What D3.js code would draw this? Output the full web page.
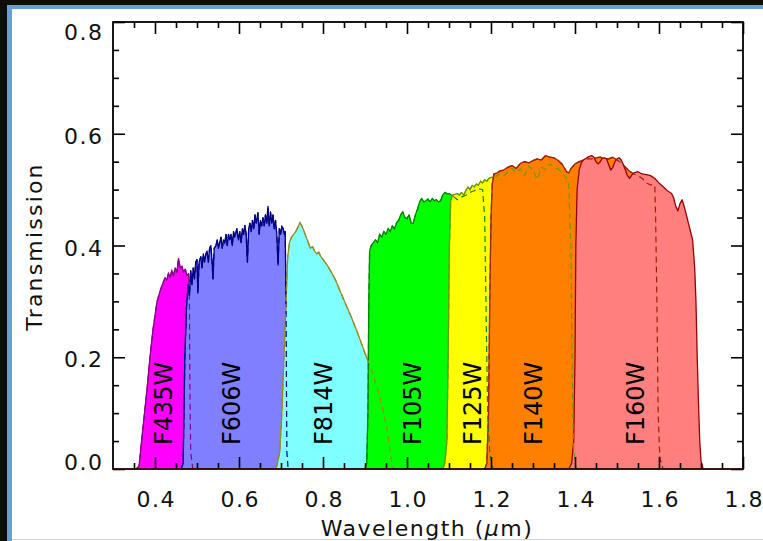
<!DOCTYPE html>
<html>
<head>
<meta charset="utf-8">
<script src="https://cdn.jsdelivr.net/npm/d3@7"></script>
<style>
  html, body { margin: 0; padding: 0; background: #0e0d0a; }
  svg { display: block; }
</style>
</head>
<body>
<svg id="chart" width="763" height="541"></svg>
<script>
// filter names, in drawing order
var filters = ['F435W', 'F606W', 'F814W', 'F105W', 'F125W', 'F140W', 'F160W'];

// wavelength (um) where each name is written
var labelWave = [0.421, 0.581, 0.802, 1.012, 1.155, 1.30, 1.543];

// throughput curves, [wavelength um, transmission]
var f435w = [[0.355,0],[0.362,0.005],[0.368,0.05],[0.375,0.1],[0.382,0.15],[0.388,0.2],[0.395,0.248],
  [0.40,0.275],[0.405,0.30],[0.41,0.313],[0.415,0.325],[0.42,0.335],[0.424,0.342],[0.428,0.338],[0.432,0.35],
  [0.436,0.343],[0.44,0.355],[0.444,0.346],[0.448,0.36],[0.452,0.352],[0.456,0.377],[0.46,0.36],[0.464,0.363],
  [0.468,0.352],[0.472,0.358],[0.476,0.346],[0.48,0.35],[0.482,0.3],[0.483,0.15],[0.485,0.03],[0.49,0]];

var f606w = [[0.462,0],[0.467,0.01],[0.469,0.1],[0.471,0.2],[0.475,0.29],[0.479,0.33],[0.482,0.31],[0.485,0.355],
  [0.488,0.33],[0.491,0.36],[0.494,0.34],[0.497,0.37],[0.50,0.375],[0.502,0.315],[0.505,0.37],[0.509,0.38],
  [0.512,0.36],[0.515,0.385],[0.518,0.37],[0.521,0.385],[0.524,0.39],[0.527,0.37],[0.53,0.395],[0.533,0.40],
  [0.536,0.37],[0.538,0.34],[0.541,0.395],[0.545,0.40],[0.548,0.41],[0.551,0.395],[0.554,0.405],[0.557,0.415],
  [0.56,0.395],[0.563,0.41],[0.566,0.405],[0.569,0.42],[0.572,0.40],[0.575,0.42],[0.578,0.41],[0.581,0.42],
  [0.584,0.40],[0.587,0.425],[0.59,0.415],[0.595,0.43],[0.599,0.41],[0.602,0.425],[0.605,0.405],[0.608,0.43],
  [0.611,0.42],[0.614,0.436],[0.617,0.42],[0.62,0.37],[0.623,0.43],[0.626,0.44],[0.629,0.425],[0.632,0.445],
  [0.635,0.43],[0.638,0.455],[0.641,0.44],[0.645,0.459],[0.648,0.42],[0.651,0.445],[0.654,0.435],[0.657,0.45],
  [0.66,0.435],[0.663,0.455],[0.666,0.44],[0.669,0.47],[0.672,0.435],[0.675,0.46],[0.678,0.44],[0.681,0.455],
  [0.684,0.43],[0.687,0.445],[0.69,0.42],[0.693,0.365],[0.696,0.43],[0.699,0.42],[0.702,0.435],[0.705,0.43],
  [0.708,0.42],[0.71,0.425],[0.712,0.3],[0.713,0.15],[0.714,0.03],[0.717,0]];

var f814w = [[0.685,0],[0.69,0.005],[0.697,0.03],[0.702,0.1],[0.707,0.2],[0.712,0.3],[0.716,0.38],[0.72,0.405],
  [0.725,0.415],[0.73,0.42],[0.735,0.425],[0.74,0.432],[0.745,0.441],[0.75,0.435],[0.755,0.425],[0.76,0.415],
  [0.765,0.405],[0.77,0.395],[0.775,0.398],[0.78,0.39],[0.785,0.385],[0.79,0.388],[0.795,0.38],[0.80,0.375],
  [0.81,0.365],[0.82,0.352],[0.83,0.338],[0.84,0.32],[0.85,0.302],[0.86,0.285],[0.87,0.267],[0.88,0.248],
  [0.89,0.228],[0.90,0.207],[0.91,0.188],[0.92,0.167],[0.93,0.143],[0.94,0.115],[0.95,0.08],[0.955,0.06],
  [0.96,0.03],[0.965,0.005],[0.97,0]];

var f105w = [[0.9,0],[0.904,0.01],[0.907,0.1],[0.909,0.3],[0.911,0.39],[0.915,0.40],[0.92,0.405],[0.925,0.41],
  [0.93,0.405],[0.935,0.42],[0.94,0.415],[0.945,0.425],[0.95,0.42],[0.955,0.43],[0.96,0.425],[0.965,0.435],
  [0.97,0.43],[0.975,0.44],[0.98,0.445],[0.985,0.455],[0.99,0.46],[0.995,0.45],[1.0,0.448],[1.005,0.455],
  [1.01,0.44],[1.015,0.44],[1.02,0.455],[1.025,0.465],[1.03,0.478],[1.035,0.484],[1.04,0.478],[1.045,0.48],
  [1.05,0.483],[1.055,0.478],[1.06,0.484],[1.065,0.48],[1.07,0.482],[1.075,0.478],[1.08,0.48],[1.085,0.49],
  [1.09,0.495],[1.095,0.493],[1.10,0.493],[1.11,0.488],[1.12,0.482],[1.13,0.487],[1.14,0.49],[1.15,0.495],
  [1.16,0.498],[1.17,0.502],[1.18,0.5],[1.185,0.45],[1.188,0.3],[1.192,0.1],[1.197,0.03],[1.205,0]];

var f125w = [[1.085,0],[1.09,0.01],[1.095,0.05],[1.098,0.2],[1.101,0.4],[1.104,0.48],[1.108,0.49],[1.115,0.492],
  [1.12,0.493],[1.125,0.49],[1.13,0.495],[1.135,0.49],[1.14,0.498],[1.145,0.505],[1.15,0.5],[1.155,0.508],
  [1.16,0.505],[1.165,0.51],[1.17,0.508],[1.175,0.515],[1.18,0.512],[1.185,0.518],[1.19,0.515],[1.195,0.52],
  [1.20,0.522],[1.21,0.522],[1.22,0.528],[1.23,0.524],[1.24,0.532],[1.25,0.538],[1.26,0.53],[1.27,0.537],
  [1.28,0.525],[1.29,0.542],[1.30,0.535],[1.31,0.518],[1.32,0.54],[1.33,0.536],[1.34,0.546],[1.35,0.54],
  [1.36,0.537],[1.37,0.53],[1.38,0.52],[1.385,0.51],[1.39,0.4],[1.393,0.2],[1.396,0.05],[1.40,0.01],[1.405,0]];

var f140w = [[1.185,0],[1.19,0.01],[1.194,0.1],[1.197,0.3],[1.20,0.45],[1.203,0.51],[1.207,0.528],[1.215,0.53],
  [1.22,0.533],[1.23,0.535],[1.24,0.54],[1.25,0.543],[1.26,0.538],[1.27,0.547],[1.28,0.55],[1.29,0.548],
  [1.30,0.552],[1.31,0.555],[1.32,0.553],[1.33,0.561],[1.34,0.558],[1.35,0.557],[1.36,0.552],[1.37,0.545],
  [1.38,0.532],[1.385,0.53],[1.39,0.537],[1.40,0.546],[1.41,0.55],[1.42,0.553],[1.43,0.555],[1.44,0.555],
  [1.45,0.557],[1.46,0.558],[1.47,0.555],[1.48,0.555],[1.49,0.558],[1.50,0.553],[1.51,0.548],[1.52,0.54],
  [1.53,0.533],[1.54,0.528],[1.55,0.525],[1.56,0.52],[1.57,0.512],[1.58,0.508],[1.585,0.51],[1.59,0.505],
  [1.592,0.45],[1.595,0.3],[1.598,0.1],[1.602,0.02],[1.61,0]];

var f160w = [[1.385,0],[1.392,0.01],[1.397,0.05],[1.40,0.2],[1.402,0.4],[1.405,0.5],[1.41,0.535],[1.415,0.548],
  [1.42,0.553],[1.43,0.558],[1.44,0.561],[1.445,0.558],[1.45,0.55],[1.455,0.546],[1.46,0.55],[1.465,0.556],
  [1.47,0.557],[1.475,0.555],[1.48,0.545],[1.485,0.535],[1.49,0.54],[1.495,0.55],[1.50,0.555],[1.505,0.557],
  [1.51,0.553],[1.515,0.545],[1.52,0.535],[1.525,0.525],[1.53,0.52],[1.535,0.526],[1.54,0.53],[1.55,0.532],
  [1.56,0.528],[1.57,0.527],[1.58,0.525],[1.59,0.52],[1.60,0.512],[1.61,0.505],[1.62,0.498],[1.63,0.493],
  [1.635,0.485],[1.64,0.47],[1.645,0.462],[1.65,0.475],[1.655,0.482],[1.66,0.47],[1.665,0.455],[1.67,0.44],
  [1.675,0.425],[1.68,0.41],[1.685,0.36],[1.688,0.3],[1.691,0.2],[1.694,0.12],[1.697,0.05],[1.70,0.015],[1.705,0]];

var curves = [f435w, f606w, f814w, f105w, f125w, f140w, f160w];

// axis ticks
var xMajor = [0.4, 0.6, 0.8, 1.0, 1.2, 1.4, 1.6, 1.8];
var yMajor = [0.0, 0.2, 0.4, 0.6, 0.8];

(function() {
  'use strict';
  var fills = ['#ff00ff', '#7f7fff', '#7fffff', '#00ff00', '#ffff00', '#ff8000', '#ff7f7f'];
  var edges = ['#8a008a', '#000080', '#9a8a20', '#008a00', '#6a9a00', '#a02000', '#990000'];
  var font = 'DejaVu Sans, Verdana, sans-serif';

  var svg = d3.select('#chart');

  // screenshot frame
  svg.append('rect').attr('width', 763).attr('height', 541).attr('fill', '#0e0d0a');
  svg.append('rect').attr('x', 7).attr('y', 5).attr('width', 756).attr('height', 536).attr('fill', '#6a9ed4');
  svg.append('rect').attr('x', 12).attr('y', 9).attr('width', 751).attr('height', 532).attr('fill', '#ffffff');
  svg.append('line').attr('x1', 12).attr('x2', 763).attr('y1', 539.5).attr('y2', 539.5)
    .attr('stroke', '#d6d6d6').attr('stroke-width', 1);

  var x = d3.scaleLinear().domain([0.3, 1.8]).range([113, 743]);
  var y = d3.scaleLinear().domain([0, 0.8]).range([469, 22]);

  var area = d3.area()
    .x(function(d) { return x(d[0]); })
    .y0(y(0))
    .y1(function(d) { return y(d[1]); });
  var line = d3.line()
    .x(function(d) { return x(d[0]); })
    .y(function(d) { return y(d[1]); });

  var plot = svg.append('g');

  // filled bands, each one over the one before
  curves.forEach(function(c, i) {
    plot.append('path').attr('d', area(c)).attr('fill', fills[i]);
    plot.append('path').attr('d', line(c)).attr('fill', 'none')
      .attr('stroke', edges[i]).attr('stroke-width', 1.3).attr('stroke-linejoin', 'round');
  });

  // hidden parts of the curves show as dashes
  curves.forEach(function(c, i) {
    if (i === curves.length - 1) return;
    plot.append('path').attr('d', line(c)).attr('fill', 'none')
      .attr('stroke', edges[i]).attr('stroke-width', 1.2)
      .attr('stroke-dasharray', '6,4');
  });

  // filter names
  plot.selectAll('text.fname')
    .data(filters)
    .enter().append('text')
    .attr('class', 'fname')
    .attr('transform', function(d, i) { return 'translate(' + (x(labelWave[i]) + 8.5) + ',445) rotate(-90)'; })
    .attr('font-family', font)
    .attr('font-size', 24)
    .attr('fill', '#000')
    .text(function(d) { return d; });

  // axes, ticks pointing inward
  var xMinor = d3.range(0.35, 1.8, 0.05).filter(function(v) {
    return xMajor.every(function(m) { return Math.abs(m - v) > 0.01; });
  });
  var yMinor = d3.range(0.05, 0.8, 0.05).filter(function(v) {
    return yMajor.every(function(m) { return Math.abs(m - v) > 0.01; });
  });

  function styleAxis(g) {
    g.select('.domain').remove();
    g.selectAll('line').attr('stroke', '#000').attr('stroke-width', 1.6);
  }

  var bottom = svg.append('g').attr('transform', 'translate(0,469)')
    .call(d3.axisBottom(x).tickValues(xMajor).tickSize(-12).tickFormat(d3.format('.1f')))
    .call(styleAxis);
  bottom.selectAll('text')
    .attr('y', 38).attr('dy', 0).attr('dx', 0.75)
    .attr('font-family', font).attr('font-size', 22)
    .style('letter-spacing', '1.5px').attr('fill', '#111');
  svg.append('g').attr('transform', 'translate(0,469)')
    .call(d3.axisBottom(x).tickValues(xMinor).tickSize(-6).tickFormat(''))
    .call(styleAxis);

  svg.append('g').attr('transform', 'translate(0,22)')
    .call(d3.axisTop(x).tickValues(xMajor).tickSize(-12).tickFormat(''))
    .call(styleAxis);
  svg.append('g').attr('transform', 'translate(0,22)')
    .call(d3.axisTop(x).tickValues(xMinor).tickSize(-6).tickFormat(''))
    .call(styleAxis);

  var left = svg.append('g').attr('transform', 'translate(113,0)')
    .call(d3.axisLeft(y).tickValues(yMajor).tickSize(-12).tickFormat(d3.format('.1f')))
    .call(styleAxis);
  left.selectAll('text')
    .attr('x', -9.5)
    .attr('y', function(d) {
      var t = y(d);
      return Math.min(Math.max(t + 2, 32), 462) - t + 0.5;
    })
    .attr('font-family', font).attr('font-size', 22)
    .style('letter-spacing', '1.5px').attr('fill', '#111');
  svg.append('g').attr('transform', 'translate(113,0)')
    .call(d3.axisLeft(y).tickValues(yMinor).tickSize(-6).tickFormat(''))
    .call(styleAxis);

  svg.append('g').attr('transform', 'translate(743,0)')
    .call(d3.axisRight(y).tickValues(yMajor).tickSize(-12).tickFormat(''))
    .call(styleAxis);
  svg.append('g').attr('transform', 'translate(743,0)')
    .call(d3.axisRight(y).tickValues(yMinor).tickSize(-6).tickFormat(''))
    .call(styleAxis);

  // box
  svg.append('rect')
    .attr('x', x(0.3)).attr('y', y(0.8))
    .attr('width', x(1.8) - x(0.3)).attr('height', y(0) - y(0.8))
    .attr('fill', 'none').attr('stroke', '#000').attr('stroke-width', 1.8);
  // baseline of the last curve runs along zero
  svg.append('line')
    .attr('x1', x(0.3)).attr('x2', x(1.8)).attr('y1', y(0)).attr('y2', y(0))
    .attr('stroke', '#5a1010').attr('stroke-width', 1.2);

  // axis titles
  svg.append('text')
    .attr('transform', 'translate(42,246.5) rotate(-90)')
    .attr('text-anchor', 'middle')
    .attr('font-family', font).attr('font-size', 22)
    .style('letter-spacing', '2.2px').attr('fill', '#111')
    .text('Transmission');

  var xt = svg.append('text')
    .attr('x', 427).attr('y', 536)
    .attr('text-anchor', 'middle')
    .attr('font-family', font).attr('font-size', 22)
    .style('letter-spacing', '1.5px').attr('fill', '#111');
  xt.append('tspan').text('Wavelength (');
  xt.append('tspan').attr('font-style', 'italic').text('μ');
  xt.append('tspan').text('m)');
})();
</script>
</body>
</html>
